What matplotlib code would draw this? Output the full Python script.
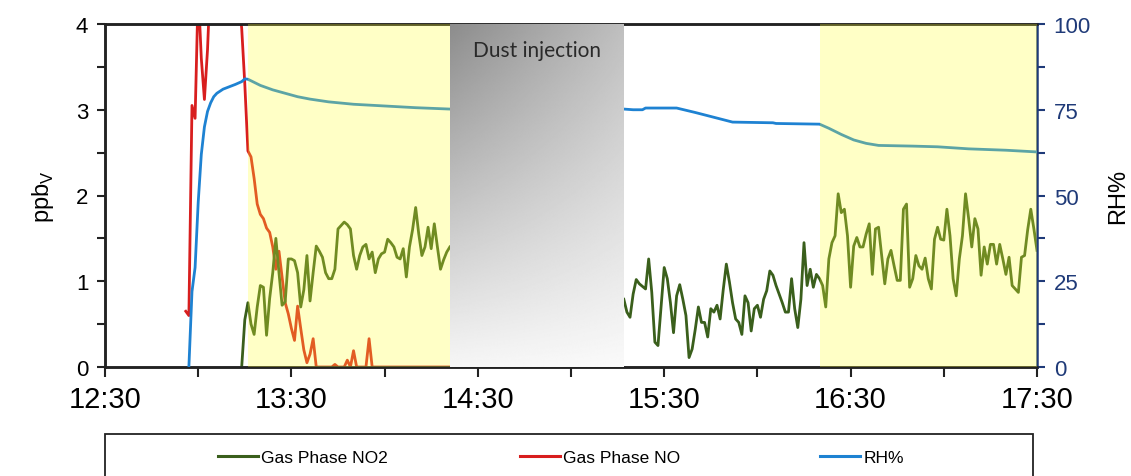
import matplotlib
matplotlib.use("Agg")
import matplotlib.pyplot as plt
import matplotlib.dates as mdates
import matplotlib.ticker as mticker
from matplotlib.lines import Line2D
from matplotlib.patches import Rectangle
import numpy as np
import pandas as pd

plt.rcParams['font.family'] = ['Liberation Sans', 'DejaVu Sans']

# Gas-phase NO2 (ppbV), one reading per minute, before and after the dust injection
no2_start_a = "13:14"
no2_a = [0.00, 0.55, 0.75, 0.50, 0.38, 0.70, 0.95, 0.93, 0.37, 0.80,
         1.10, 1.50, 1.10, 0.72, 0.76, 1.26, 1.26, 1.24, 1.10, 0.70,
         0.90, 1.30, 0.77, 1.10, 1.41, 1.35, 1.28, 1.10, 1.03, 1.03,
         1.14, 1.61, 1.65, 1.69, 1.66, 1.61, 1.30, 1.14, 1.30, 1.40,
         1.43, 1.26, 1.34, 1.10, 1.26, 1.32, 1.34, 1.49, 1.45, 1.40,
         1.28, 1.26, 1.38, 1.05, 1.40, 1.60, 1.86, 1.55, 1.30, 1.40,
         1.63, 1.38, 1.67, 1.40, 1.14, 1.25, 1.34, 1.40]
no2_start_b = "15:17"
no2_b = [0.79, 0.64, 0.58, 0.85, 1.02, 0.97, 0.94, 0.91, 1.26, 0.87,
         0.29, 0.25, 0.70, 1.16, 1.03, 0.75, 0.40, 0.83, 0.96, 0.79,
         0.60, 0.11, 0.21, 0.44, 0.70, 0.52, 0.52, 0.35, 0.68, 0.64,
         0.72, 0.56, 0.90, 1.20, 0.99, 0.75, 0.56, 0.52, 0.38, 0.83,
         0.75, 0.42, 0.68, 0.72, 0.58, 0.79, 0.89, 1.12, 1.07, 0.95,
         0.85, 0.75, 0.64, 0.64, 1.03, 0.68, 0.46, 0.79, 1.45, 0.95,
         1.14, 0.93, 1.08, 1.03, 0.95, 0.70, 1.26, 1.45, 1.53, 2.02,
         1.80, 1.84, 1.53, 0.93, 1.41, 1.51, 1.40, 1.40, 1.55, 1.67,
         1.08, 1.61, 1.63, 1.30, 0.97, 1.26, 1.36, 1.18, 1.01, 1.01,
         1.84, 1.90, 0.93, 1.03, 1.30, 1.18, 1.14, 1.27, 1.03, 0.91,
         1.49, 1.63, 1.49, 1.48, 1.84, 1.53, 1.03, 0.83, 1.26, 1.53,
         2.02, 1.73, 1.40, 1.73, 1.61, 1.07, 1.40, 1.20, 1.43, 1.43,
         1.20, 1.43, 1.26, 1.08, 1.28, 0.95, 0.91, 0.87, 1.28, 1.30,
         1.60, 1.84, 1.61, 1.36]

# Gas-phase NO (ppbV), one reading per minute
no_start = "12:56"
no = [0.65, 0.60, 3.05, 2.90, 4.40, 3.60, 3.12, 3.70, 4.60, 5.40,
      6.20, 6.80, 7.00, 6.70, 6.10, 5.50, 4.90, 4.30, 3.95, 3.30,
      2.52, 2.45, 2.20, 1.90, 1.78, 1.73, 1.62, 1.57, 1.40, 1.14,
      1.35, 1.05, 0.75, 0.62, 0.45, 0.31, 0.71, 0.45, 0.20, 0.05,
      0.15, 0.33, 0.00, 0.00, 0.00, 0.00, 0.00, 0.00, 0.03, 0.00,
      0.00, 0.00, 0.08, 0.00, 0.19, 0.00, 0.00, 0.00, 0.00, 0.33,
      0.00, 0.00, 0.00, 0.00, 0.00, 0.00, 0.00, 0.00, 0.00, 0.00,
      0.00, 0.00, 0.00, 0.00, 0.00, 0.00, 0.00, 0.00, 0.00, 0.00,
      0.00, 0.00, 0.00, 0.00, 0.00, 0.00]

# Relative humidity (%)
rh_times_a = ["12:57", "12:58", "12:59", "13:00", "13:01", "13:02", "13:03",
              "13:04", "13:05", "13:06", "13:08", "13:10", "13:12", "13:14",
              "13:15", "13:16", "13:18", "13:20", "13:24", "13:28", "13:32",
              "13:36", "13:42", "13:50", "14:00", "14:10", "14:21"]
rh_a = [0.0, 22.0, 29.0, 48.0, 62.0, 70.0, 74.5, 77.0, 78.8, 79.8, 81.0,
        81.7, 82.4, 83.2, 84.0, 83.9, 83.0, 82.1, 80.8, 79.8, 78.8, 78.1,
        77.3, 76.6, 76.1, 75.6, 75.2]
rh_times_b = ["15:17", "15:20", "15:23", "15:24", "15:34", "15:40", "15:46",
              "15:52", "16:05", "16:06", "16:20", "16:23", "16:27", "16:31",
              "16:35", "16:39", "16:50", "16:58", "17:08", "17:20", "17:30"]
rh_b = [75.2, 75.0, 75.0, 75.5, 75.5, 74.2, 72.8, 71.4, 71.2, 71.0, 70.8,
        69.6, 67.8, 66.2, 65.2, 64.6, 64.4, 64.2, 63.6, 63.2, 62.7]

humid_periods = [("13:16", "14:21"), ("16:20", "17:30")]
dust_period = ("14:21", "15:17")
x_range = ("12:30", "17:30")


def clock(s):
    return pd.to_datetime(s, format="%H:%M")


def clocks(seq):
    return pd.to_datetime(pd.Series(seq), format="%H:%M")


def per_minute(start, values):
    return pd.date_range(clock(start), periods=len(values), freq="min")


GREEN = "#3a5f1c"
RED = "#d81e1e"
BLUE = "#1e82d2"
NAVY = "#1f3a78"

fig = plt.figure(figsize=(11.31, 4.77), dpi=100)
ax = fig.add_axes([105 / 1131, 1 - 368 / 477, (1037 - 105) / 1131, (368 - 25) / 477])
ax2 = ax.twinx()

lw = 2.0
ax.plot(per_minute(no2_start_a, no2_a), no2_a, color=GREEN, lw=lw, zorder=3)
ax.plot(per_minute(no2_start_b, no2_b), no2_b, color=GREEN, lw=lw, zorder=3)
ax.plot(per_minute(no_start, no), no, color=RED, lw=lw, zorder=2)
ax2.plot(clocks(rh_times_a), rh_a, color=BLUE, lw=lw, zorder=3)
ax2.plot(clocks(rh_times_b), rh_b, color=BLUE, lw=lw, zorder=3)

# Translucent yellow periods laid over the traces
for t0, t1 in humid_periods:
    ax2.axvspan(clock(t0), clock(t1), color="#ffff33", alpha=0.28, lw=0, zorder=4)

# Dust-injection period: opaque grey shading, darkest at the top left
d0 = mdates.date2num(clock(dust_period[0]))
d1 = mdates.date2num(clock(dust_period[1]))
u = np.linspace(0, 1, 200)[None, :]
v = np.linspace(0, 1, 300)[:, None]
shade = 1 - 0.45 * (1 - 0.44 * u) * (1 - 0.92 * v)
ax2.imshow(shade, cmap="gray", vmin=0, vmax=1, extent=[d0, d1, 0, 100],
           origin="upper", aspect="auto", interpolation="bilinear", zorder=5)
ax2.text((d0 + d1) / 2, 92.3, "Dust injection", ha="center", va="center",
         fontsize=15, color="#2a2a2a", family=["Lato", "DejaVu Sans"], zorder=6)

xmin, xmax = clock(x_range[0]), clock(x_range[1])
ax.set_xlim(xmin, xmax)
ax2.set_xlim(xmin, xmax)
ax.set_ylim(0, 4)
ax2.set_ylim(0, 100)

# x axis: ticks every half hour, labels on the half hours
ax.xaxis.set_major_locator(mdates.MinuteLocator(byminute=[30]))
ax.xaxis.set_minor_locator(mdates.MinuteLocator(byminute=[0]))
ax.xaxis.set_major_formatter(mdates.DateFormatter("%H:%M"))
ax.tick_params(axis="x", which="both", direction="out", length=7, width=1.5,
               labelsize=21, pad=6, color="#222222")

ax.yaxis.set_major_locator(mticker.MultipleLocator(1))
ax.yaxis.set_minor_locator(mticker.MultipleLocator(0.5))
ax.tick_params(axis="y", which="both", direction="out", length=6, width=1.5,
               labelsize=16, pad=6, color="#222222")

ax2.yaxis.set_major_locator(mticker.MultipleLocator(25))
ax2.yaxis.set_minor_locator(mticker.MultipleLocator(12.5))
ax2.tick_params(axis="y", which="both", direction="out", length=6, width=1.5,
                labelsize=16, pad=6, color=NAVY, labelcolor=NAVY)

for name in ("left", "bottom", "top"):
    ax.spines[name].set_linewidth(1.8)
    ax.spines[name].set_color("#222222")
    ax2.spines[name].set_linewidth(1.8)
    ax2.spines[name].set_color("#222222")
ax2.spines["right"].set_linewidth(1.8)
ax2.spines["right"].set_color(NAVY)
ax.spines["right"].set_visible(False)

ax.set_ylabel(r"ppb$_\mathregular{V}$", fontsize=17, labelpad=14)
ax2.set_ylabel("RH%", fontsize=17, labelpad=12)

# Legend strip below the plot
fig.add_artist(Rectangle((105 / 1131, -0.1), (1033 - 105) / 1131, 0.1 + 42 / 477,
                         transform=fig.transFigure, fill=False, edgecolor="#222222",
                         lw=1.3, clip_on=False))
entries = [("Gas Phase NO2", GREEN, 218), ("Gas Phase NO", RED, 520), ("RH%", BLUE, 820)]
for label, color, xpx in entries:
    fig.legend([Line2D([], [], color=color, lw=2.2)], [label],
               loc="center left", bbox_to_anchor=(xpx / 1131, 19 / 477),
               frameon=False, fontsize=12.5, handlelength=2.3,
               handletextpad=0.2, borderpad=0, borderaxespad=0)

fig.savefig("out.png", dpi=100)
